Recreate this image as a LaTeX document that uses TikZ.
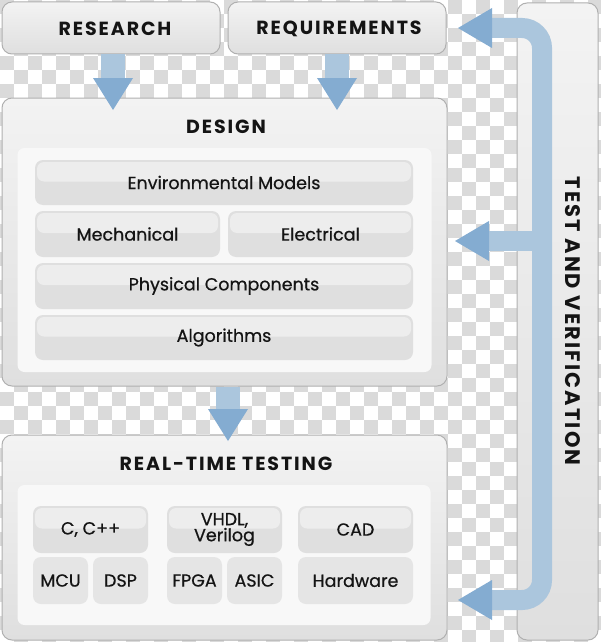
\documentclass[tikz,border=0pt]{standalone}
\usepackage{fontspec}
\setmainfont{Poppins}
\newfontfamily\subfont[FakeBold=0.6]{Poppins}
\newfontfamily\titlefont[LetterSpace=10]{Poppins}
\usetikzlibrary{arrows.meta}
\definecolor{checker}{HTML}{DADADA}
\definecolor{boxedge}{HTML}{B0B0B0}
\definecolor{boxtop}{HTML}{F3F3F3}
\definecolor{boxbot}{HTML}{DFDFDF}
\definecolor{panel}{HTML}{F8F8F8}
\definecolor{subfill}{HTML}{DFDFDF}
\definecolor{subhi}{HTML}{EDEDED}
\definecolor{subflat}{HTML}{E5E5E5}
\definecolor{shaftblue}{HTML}{ABC6DD}
\definecolor{headblue}{HTML}{84ACD1}
\definecolor{ink}{HTML}{141414}
\tikzset{
  bigbox/.style={draw=boxedge, line width=1pt, rounded corners=10pt, top color=boxtop, bottom color=boxbot, inner sep=0pt},
  panelbox/.style={fill=panel, draw=none, rounded corners=7pt, inner sep=0pt},
  subbox/.style={fill=subfill, draw=none, rounded corners=8pt, inner sep=0pt, text=ink,
    font=\subfont\fontsize{17.5}{18}\selectfont,
    path picture={\fill[subhi, rounded corners=7pt] ([xshift=2pt,yshift=-2pt]path picture bounding box.north west) rectangle ([xshift=-2pt,yshift=1pt]path picture bounding box.east);}},
  flatbox/.style={fill=subflat, draw=none, rounded corners=8pt, inner sep=0pt, text=ink, font=\subfont\fontsize{17.5}{18}\selectfont},
  titletext/.style={text=ink, font=\titlefont\bfseries\fontsize{19}{20}\selectfont, inner sep=0pt},
  vhead/.tip={Triangle[width=40pt,length=32pt,line width=0pt,fill=headblue,color=headblue]},
  hhead/.tip={Triangle[width=40pt,length=34pt,line width=0pt,fill=headblue,color=headblue]},
  varrow/.style={line width=24pt, draw=shaftblue, -{vhead}},
  harrow/.style={line width=20pt, draw=shaftblue},
}
\begin{document}
\begin{tikzpicture}[x=1pt,y=-1pt]
\useasboundingbox (0,0) rectangle (600,642);
\fill[white] (0,0) rectangle (600,642);
\foreach \i in {0,...,21} \foreach \j in {0,...,22} {
  \fill[checker] (\i*28,\j*28) rectangle +(14,14);
  \fill[checker] (\i*28+14,\j*28+14) rectangle +(14,14);
}
% top boxes
\node[bigbox, minimum width=218pt, minimum height=52pt] (research) at (111,28) {};
\node[titletext] (researcht) at (115,29) {RESEARCH};
\node[bigbox, minimum width=218pt, minimum height=52pt] (requirements) at (337,28) {};
\node[titletext] (requirementst) at (339,29) {REQUIREMENTS};
% test and verification
\node[bigbox, minimum width=81pt, minimum height=637pt] (test) at (557.5,321.5) {};
\node[titletext, rotate=-90, font=\titlefont\bfseries\fontsize{21}{22}\selectfont] (testt) at (573,321) {TEST AND VERIFICATION};
% design
\node[bigbox, minimum width=445pt, minimum height=288pt] (design) at (224.5,242) {};
\node[titletext] (designt) at (226,127) {DESIGN};
\node[panelbox, minimum width=414pt, minimum height=224pt] (dpanel) at (224.5,260) {};
\node[subbox, minimum width=378pt, minimum height=45pt] (env) at (224,182.5) {Environmental Models};
\node[subbox, minimum width=185pt, minimum height=46pt] (mech) at (127.5,234) {Mechanical};
\node[subbox, minimum width=185pt, minimum height=46pt] (elec) at (320.5,234) {Electrical};
\node[subbox, minimum width=378pt, minimum height=46pt] (phys) at (224,286) {Physical Components};
\node[subbox, minimum width=378pt, minimum height=45pt] (algo) at (224,337.5) {Algorithms};
% real-time testing
\node[bigbox, minimum width=445pt, minimum height=205pt] (rt) at (224.5,537.5) {};
\node[titletext] (rtt) at (226,464) {REAL-TIME TESTING};
\node[panelbox, minimum width=413pt, minimum height=140pt] (rpanel) at (224,555) {};
\node[subbox, minimum width=115pt, minimum height=47pt] (cpp) at (90.5,529.5) {C, C++};
\node[subbox, minimum width=115pt, minimum height=47pt, align=center, font=\subfont\fontsize{17.5}{16}\selectfont] (vhdl) at (224.5,529.5) {VHDL,\\Verilog};
\node[subbox, minimum width=115pt, minimum height=47pt] (cad) at (355.5,529.5) {CAD};
\node[flatbox, minimum width=55pt, minimum height=47pt] (mcu) at (60.5,580.5) {MCU};
\node[flatbox, minimum width=55pt, minimum height=47pt] (dsp) at (120.5,580.5) {DSP};
\node[flatbox, minimum width=55pt, minimum height=47pt] (fpga) at (194.5,580.5) {FPGA};
\node[flatbox, minimum width=55pt, minimum height=47pt] (asic) at (254.5,580.5) {ASIC};
\node[flatbox, minimum width=115pt, minimum height=47pt] (hw) at (355.5,580.5) {Hardware};
% arrows
\coordinate (restip) at (113,110);
\coordinate (reqtip) at (337,110);
\coordinate (dtip) at (228,441);
\coordinate (vtop) at (542,28);
\coordinate (vbot) at (542,600);
\coordinate (vmid) at (542,241);
\coordinate (rqin) at (458,28);
\coordinate (dsin) at (455,241);
\coordinate (rtin) at (458,600);
\draw[varrow] (research.south -| restip) -- (restip);
\draw[varrow] (requirements.south) -- (reqtip);
\draw[varrow] (design.south -| dtip) -- (dtip);
\draw[harrow, rounded corners=20pt, {hhead}-{hhead}] (rqin) -- (vtop) -- (vbot) -- (rtin);
\draw[harrow, -{hhead}] (vmid) -- (dsin);
\end{tikzpicture}
\end{document}
